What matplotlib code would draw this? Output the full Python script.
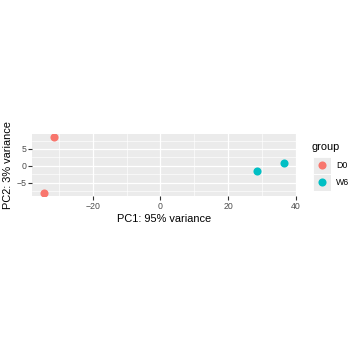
import numpy as np
import matplotlib.pyplot as plt

plt.rcParams['font.family'] = ['Liberation Sans', 'DejaVu Sans']

# PCA scores
groups = ['D0', 'D0', 'W6', 'W6']
pc1 = [-31.4, -34.4, 36.5, 28.6]
pc2 = [8.6, -8.15, 0.9, -1.7]
levels = ['D0', 'W6']
colors = {'D0': '#F8766D', 'W6': '#00BFC4'}

W, H = 360, 360
fig = plt.figure(figsize=(3.6, 3.6), dpi=100)

# panel (pixel box: x 32-296, y 134-196)
ax = fig.add_axes([32 / W, 1 - 196 / H, 264 / W, 62 / H])
ax.set_facecolor('#EBEBEB')
for c in levels:
    xs = [x for x, g in zip(pc1, groups) if g == c]
    ys = [y for y, g in zip(pc2, groups) if g == c]
    ax.scatter(xs, ys, s=34, color=colors[c], linewidths=0, zorder=3)

xr = max(pc1) - min(pc1)
yr = max(pc2) - min(pc2)
ax.set_xlim(min(pc1) - 0.05 * xr, max(pc1) + 0.05 * xr)
ax.set_ylim(min(pc2) - 0.05 * yr, max(pc2) + 0.05 * yr)
ax.set_xticks([-20, 0, 20, 40])
ax.set_yticks([-5, 0, 5])
ax.set_xticks([-30, -10, 10, 30], minor=True)
ax.set_yticks([-7.5, -2.5, 2.5, 7.5], minor=True)
ax.grid(True, which='major', color='white', linewidth=0.9)
ax.grid(True, which='minor', color='white', linewidth=0.45)
ax.set_axisbelow(True)
for s in ax.spines.values():
    s.set_visible(False)
ax.tick_params(which='major', length=2.7, width=0.8, color='#333333',
               labelsize=6.3, labelcolor='#4D4D4D', pad=1.5)
ax.tick_params(which='minor', length=0)
ax.set_xlabel('PC1: 95% variance', fontsize=7.9, color='black', labelpad=2)
ax.set_ylabel('PC2: 3% variance', fontsize=7.9, color='black', labelpad=2)

# legend
fig.text(312 / W, 1 - 147 / H, 'group', fontsize=7.9, va='center', ha='left')
lax = fig.add_axes([313 / W, 1 - 191 / H, 17.5 / W, 34.5 / H])
lax.set_xlim(0, 1)
lax.set_ylim(0, len(levels))
lax.axis('off')
for i, c in enumerate(levels):
    yk = len(levels) - i - 0.5
    lax.add_patch(plt.Rectangle((0, yk - 0.5), 1, 1, facecolor='#EBEBEB',
                                edgecolor='white', linewidth=0.6))
    lax.scatter([0.5], [yk], s=34, color=colors[c], linewidths=0, zorder=3)
    fig.text(336 / W, 1 - (165.7 + 17 * i) / H, c, fontsize=6.3,
             va='center', ha='left')

fig.savefig('out.png', dpi=100)
